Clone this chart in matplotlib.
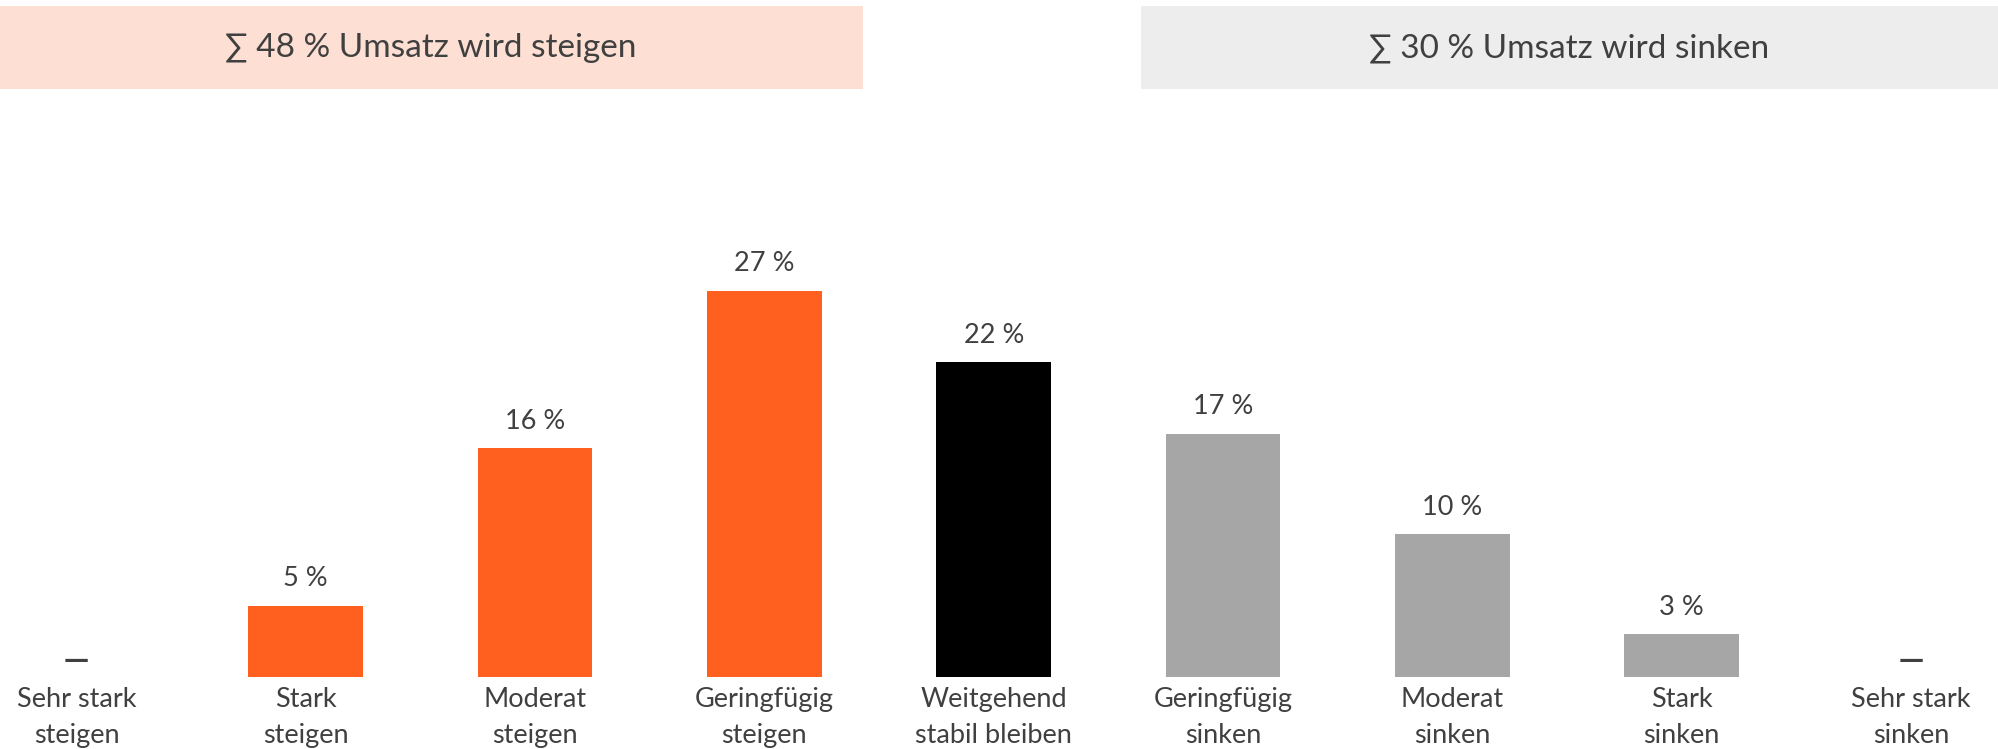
import matplotlib.pyplot as plt
from matplotlib.patches import Rectangle

categories = ['Sehr stark\nsteigen', 'Stark\nsteigen', 'Moderat\nsteigen', 'Geringfügig\nsteigen',
              'Weitgehend\nstabil bleiben', 'Geringfügig\nsinken', 'Moderat\nsinken',
              'Stark\nsinken', 'Sehr stark\nsinken']
values = [0, 5, 16, 27, 22, 17, 10, 3, 0]
colors = ['#FF5F1F'] * 4 + ['#000000'] + ['#A6A6A6'] * 4
banner_up = '∑ 48 % Umsatz wird steigen'
banner_down = '∑ 30 % Umsatz wird sinken'

plt.rcParams['font.family'] = ['Lato', 'DejaVu Sans']
text_color = '#404040'

W, H = 1998, 749
fig = plt.figure(figsize=(W / 100, H / 100), dpi=100)

# axes placed so bar centres / baseline land where the reference has them
base_px = 677
top_px = 100
ax = fig.add_axes([0, (H - base_px) / H, 1, (base_px - top_px) / H])
step = 229.3
first = 76.5
ax.set_xlim(-first / step, (W - first) / step)
ax.set_ylim(0, (base_px - top_px) / 14.3)

x = list(range(len(values)))
ax.bar(x, values, width=0.5, color=colors)

for i, v in enumerate(values):
    if v == 0:
        ax.annotate('—', (i, 0), xytext=(0, 7), textcoords='offset points',
                    ha='center', va='baseline', fontsize=18, color=text_color,
                    family='DejaVu Sans', fontweight='bold')
    else:
        ax.annotate(f'{v} %', (i, v), xytext=(0, 14), textcoords='offset points',
                    ha='center', va='baseline', fontsize=19.5, color=text_color)

ax.set_xticks(x)
ax.set_xticklabels(categories, fontsize=19.5, color=text_color, linespacing=1.55)
ax.tick_params(axis='x', length=0, pad=7)
ax.set_yticks([])
for s in ax.spines.values():
    s.set_visible(False)

# banners on top
fig.add_artist(Rectangle((0, (H - 89) / H), 863 / W, 83 / H, transform=fig.transFigure,
                         facecolor='#FDDFD3', edgecolor='none'))
fig.add_artist(Rectangle((1141 / W, (H - 89) / H), (W - 1141) / W, 83 / H, transform=fig.transFigure,
                         facecolor='#EDEDED', edgecolor='none'))
fig.text(431 / W, (H - 48) / H, banner_up, ha='center', va='center', fontsize=24, color=text_color)
fig.text(1569 / W, (H - 48) / H, banner_down, ha='center', va='center', fontsize=24, color=text_color)

fig.savefig('out.png', dpi=100)
